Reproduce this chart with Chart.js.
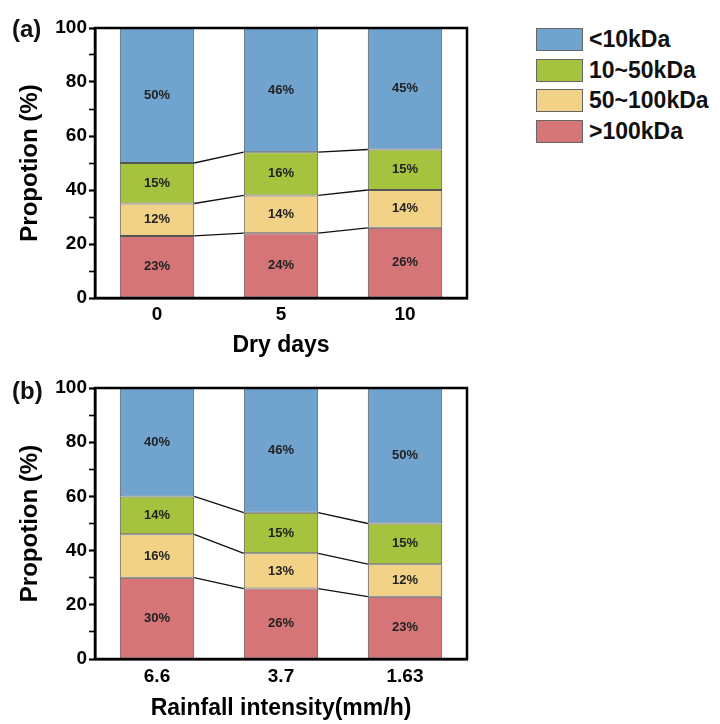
<!DOCTYPE html>
<html>
<head>
<meta charset="utf-8">
<script src="https://cdn.jsdelivr.net/npm/chart.js@4.4.1/dist/chart.umd.min.js"></script>
<style>
  body { margin: 0; background: #fff; font-family: "Liberation Sans", Arial, sans-serif; }
  #wrap { position: relative; width: 720px; height: 724px; }
  canvas { position: absolute; left: 0; }
  .panel { position: absolute; font-weight: bold; font-size: 24px; color: #111; }
  #legend { position: absolute; left: 536px; top: 28px; }
  .item { display: flex; align-items: center; height: 23px; margin-bottom: 7.7px; }
  .box { width: 45px; height: 21px; border: 1px solid #666; margin-right: 6px; }
  .txt { font-weight: bold; font-size: 23px; color: #111; }
</style>
</head>
<body>
<div id="wrap">
  <canvas id="chartA" width="500" height="362" style="top:0"></canvas>
  <canvas id="chartB" width="500" height="362" style="top:362px"></canvas>
  <div class="panel" style="left:12px; top:15px">(a)</div>
  <div class="panel" style="left:12px; top:377px">(b)</div>
  <div id="legend"></div>
</div>
<script>
const seriesNames = ['>100kDa', '50~100kDa', '10~50kDa', '<10kDa'];
const seriesColors = ['#D57577', '#F1D286', '#A6C33F', '#71A3CF'];

// (a) dry days
const dryDays = ['0', '5', '10'];
const dryGt100 = [23, 24, 26];
const dry50to100 = [12, 14, 14];
const dry10to50 = [15, 16, 15];
const dryLt10 = [50, 46, 45];

// (b) rainfall intensity
const rainIntensity = ['6.6', '3.7', '1.63'];
const rainGt100 = [30, 26, 23];
const rain50to100 = [16, 13, 12];
const rain10to50 = [14, 15, 15];
const rainLt10 = [40, 46, 50];

const yTicks = [0, 20, 40, 60, 80, 100];

const FONT = '"Liberation Sans", Arial, sans-serif';

// lines between stacks, labels inside segments, box frame
const stackPlugin = {
  id: 'stackDecor',
  afterDatasetsDraw(chart) {
    const ctx = chart.ctx;
    const metas = chart.data.datasets.map((d, i) => chart.getDatasetMeta(i));

    ctx.save();
    ctx.strokeStyle = '#111';
    ctx.lineWidth = 1.3;
    ctx.beginPath();
    for (let s = 0; s < metas.length - 1; s++) {
      const bars = metas[s].data;
      for (let i = 0; i < bars.length - 1; i++) {
        const a = bars[i], b = bars[i + 1];
        ctx.moveTo(a.x + a.width / 2, a.y);
        ctx.lineTo(b.x - b.width / 2, b.y);
      }
    }
    ctx.stroke();

    ctx.fillStyle = '#222';
    ctx.font = 'bold 13px ' + FONT;
    ctx.textAlign = 'center';
    ctx.textBaseline = 'middle';
    metas.forEach((meta, s) => {
      meta.data.forEach((bar, i) => {
        const v = chart.data.datasets[s].data[i];
        ctx.fillText(v + '%', bar.x, (bar.y + bar.base) / 2);
      });
    });

    const ca = chart.chartArea;
    ctx.strokeStyle = '#000';
    ctx.lineWidth = 2.5;
    ctx.strokeRect(ca.left, ca.top, ca.right - ca.left, ca.bottom - ca.top);
    ctx.restore();
  }
};

function makeChart(id, labels, series, xTitle, opts) {
  const datasets = series.map((data, i) => ({
    label: seriesNames[i],
    data: data,
    backgroundColor: seriesColors[i],
    borderColor: '#555',
    borderWidth: 1,
    borderSkipped: false,
    barPercentage: 0.6,
    categoryPercentage: 1
  }));

  return new Chart(document.getElementById(id), {
    type: 'bar',
    data: { labels: labels, datasets: datasets },
    plugins: [stackPlugin],
    options: {
      responsive: false,
      animation: false,
      devicePixelRatio: 1,
      layout: { padding: { top: opts.top, right: 33, left: 0, bottom: 0 } },
      plugins: { legend: { display: false }, tooltip: { enabled: false } },
      scales: {
        x: {
          stacked: true,
          grid: { display: false, drawTicks: false },
          border: { display: true, color: '#000', width: 2.5 },
          ticks: { color: '#000', padding: opts.xPad, font: { family: FONT, size: 19, weight: 'bold' } },
          title: {
            display: true, text: xTitle, color: '#000',
            font: { family: FONT, size: 23, weight: 'bold' },
            padding: { top: 0, bottom: opts.titlePad }
          },
          afterFit: s => { s.height = opts.xHeight; }
        },
        y: {
          stacked: true,
          min: 0, max: 100,
          grid: {
            drawOnChartArea: false, drawTicks: true, tickLength: 6,
            tickColor: '#000',
            tickWidth: c => (c.tick && c.tick.value % 20 === 0 ? 2.2 : 1.6)
          },
          border: { display: true, color: '#000', width: 2.5 },
          ticks: {
            stepSize: 10, color: '#000', padding: 2,
            font: { family: FONT, size: 19, weight: 'bold' },
            callback: v => (yTicks.includes(v) ? v : '')
          },
          title: {
            display: true, text: 'Propotion (%)', color: '#000',
            font: { family: FONT, size: 24, weight: 'bold' },
            padding: { top: 16, bottom: 0 }
          },
          afterFit: s => { s.width = 95; }
        }
      }
    }
  });
}

makeChart('chartA', dryDays, [dryGt100, dry50to100, dry10to50, dryLt10], 'Dry days',
  { top: 28, xHeight: 64, xPad: 5, titlePad: 3 });
makeChart('chartB', rainIntensity, [rainGt100, rain50to100, rain10to50, rainLt10], 'Rainfall intensity(mm/h)',
  { top: 26, xHeight: 65, xPad: 6, titlePad: 2 });

// legend, top entry is the top of the stack
const legend = document.getElementById('legend');
for (let i = seriesNames.length - 1; i >= 0; i--) {
  const item = document.createElement('div');
  item.className = 'item';
  const box = document.createElement('div');
  box.className = 'box';
  box.style.background = seriesColors[i];
  const txt = document.createElement('span');
  txt.className = 'txt';
  txt.textContent = seriesNames[i];
  item.appendChild(box);
  item.appendChild(txt);
  legend.appendChild(item);
}
</script>
</body>
</html>
